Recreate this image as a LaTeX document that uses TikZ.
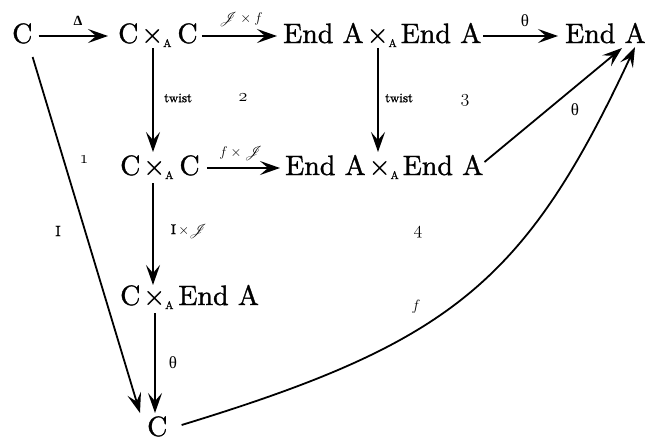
\RequirePackage{fix-cm}
\documentclass[tikz,border=0pt]{standalone}
\usepackage{fontspec}
\usepackage{mathrsfs}
\usetikzlibrary{arrows.meta}
\newfontfamily\grk{Liberation Serif}
\newfontfamily\objfont{lmroman10-regular}[Extension=.otf, FakeBold=1.2]
\newcommand{\xA}{\texttimes{\fontsize{11}{11}\selectfont\bfseries\raisebox{-4pt}{A}}}
\newcommand{\osn}[1]{{\fontsize{18}{18}\usefont{OML}{cmm}{m}{it}#1}}
\begin{document}
\begin{tikzpicture}[x=1pt,y=-1pt,
  obj/.style={font=\objfont\fontsize{28}{30}\selectfont, inner sep=0pt, anchor=base west},
  lbl/.style={inner sep=0pt, font=\fontsize{14}{14}\selectfont},
  arr/.style={line width=1.8pt, -{Stealth[length=20pt,width=14pt,inset=8pt]}}]
\useasboundingbox (0,0) rectangle (647,440);
% objects
\node[obj] (C1) at (12,43) {C};
\node[obj] (CC1) at (118,43) {C\kern3pt\xA\kern6pt C};
\node[obj] (EE1) at (283,43) {End A\kern3pt\xA\kern4pt End A};
\node[obj] (EA1) at (565,43) {End A};
\node[obj] (CC2) at (120,175) {C\kern3pt\xA\kern6pt C};
\node[obj] (EE2) at (285,175) {End A\kern3pt\xA\kern4pt End A};
\node[obj] (CEA) at (120,305) {C\kern3pt\xA\kern5pt End A};
\node[obj] (C2) at (147,436) {C};
% horizontal arrows
\draw[arr] ([shift={(6,-7)}]C1.base east) -- ([shift={(-10,-7)}]CC1.base west);
\draw[arr] ([shift={(4,-7)}]CC1.base east) -- ([shift={(-6,-7)}]EE1.base west);
\draw[arr] ([shift={(2,-7)}]EE1.base east) -- ([shift={(-7,-7)}]EA1.base west);
\draw[arr] ([shift={(7,-7)}]CC2.base east) -- ([shift={(-5,-7)}]EE2.base west);
% vertical arrows
\draw[arr] ([shift={(35,5)}]CC1.base west) -- ([shift={(33,-23)}]CC2.base west);
\draw[arr] ([shift={(95,5)}]EE1.base west) -- ([shift={(93,-23)}]EE2.base west);
\draw[arr] ([shift={(33,8)}]CC2.base west) -- ([shift={(33,-20)}]CEA.base west);
\draw[arr] ([shift={(35,8)}]CEA.base west) -- ([shift={(8,-23)}]C2.base west);
% diagonal and curves
\draw[arr] ([shift={(0,14)}]C1.base east) -- ([shift={(-7,-23)}]C2.base west);
\draw[arr] ([shift={(1,-13)}]EE2.base east) -- ([shift={(57,5)}]EA1.base west);
\draw[arr] ([shift={(14,-11)}]C2.base east) .. controls (450,343) and (525,283) .. ([shift={(70,4)}]EA1.base west);
% labels
\node[lbl] (lD) at (78,21) {\grk\bfseries Δ};
\node[lbl] (lJf) at (241,19) {$\mathscr{J}\times f$};
\node[lbl, font=\fontsize{17}{17}\selectfont] (lth1) at (525,21) {\grk θ};
\node[lbl, anchor=west, font=\objfont\fontsize{13}{13}\selectfont] (ltw1) at (164,98) {twist};
\node[lbl, anchor=west, font=\objfont\fontsize{13}{13}\selectfont] (ltw2) at (385,98) {twist};
\node[lbl] (r2) at (243,98) {\osn{2}};
\node[lbl] (r3) at (465,100) {\osn{3}};
\node[lbl] (r1) at (84,160) {\osn{1}};
\node[lbl] (r4) at (418,232) {\osn{4}};
\node[lbl] (lfJ) at (241,153) {$f\times\mathscr{J}$};
\node[lbl, font=\objfont\fontsize{15}{15}\selectfont] (lI) at (58,231) {I};
\node[lbl, font=\objfont\fontsize{14}{14}\selectfont] (lIJ) at (189,231) {I\,$\times\mathscr{J}$};
\node[lbl, font=\fontsize{17}{17}\selectfont] (lth2) at (575,110) {\grk θ};
\node[lbl, font=\fontsize{17}{17}\selectfont] (lth3) at (173,363) {\grk θ};
\node[lbl, font=\fontsize{15}{15}\selectfont] (lf) at (416,307) {$f$};
\end{tikzpicture}
\end{document}
